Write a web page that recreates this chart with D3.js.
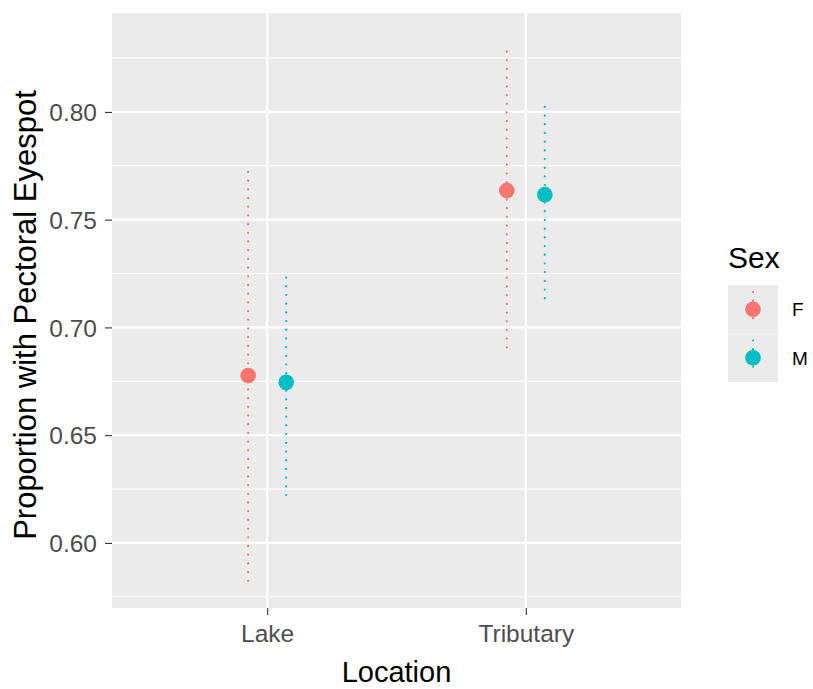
<!DOCTYPE html>
<html>
<head>
<meta charset="utf-8">
<script src="https://cdn.jsdelivr.net/npm/d3@7"></script>
<style>
  body { margin: 0; background: #fff; }
  text { font-family: "Liberation Sans", Arial, sans-serif; }
</style>
</head>
<body>
<div id="chart-area"></div>
<script>
var locations = ["Lake", "Tributary"];
var sexes = ["F", "M"];
var colors = ["#F8766D", "#00BFC4"];

// estimates per location, one array per sex
var estF  = [0.6777, 0.7635];
var lowF  = [0.5824, 0.6907];
var highF = [0.7723, 0.8316];
var estM  = [0.6745, 0.7616];
var lowM  = [0.6222, 0.7135];
var highM = [0.7255, 0.8056];

var yTicks = [0.60, 0.65, 0.70, 0.75, 0.80];
var yMinor = [0.575, 0.625, 0.675, 0.725, 0.775, 0.825];

var data = [];
locations.forEach(function(loc, i) {
    data.push({ loc: loc, sex: "F", est: estF[i], low: lowF[i], high: highF[i] });
    data.push({ loc: loc, sex: "M", est: estM[i], low: lowM[i], high: highM[i] });
});

var margin = { top: 13, left: 112 };
var width  = 569;
var height = 595;

var svg = d3.select("#chart-area")
    .append("svg")
        .attr("width", 813)
        .attr("height", 689);

var g = svg.append("g")
    .attr("transform", "translate(" + margin.left + ", " + margin.top + ")");

// discrete x with ggplot's 0.6 expansion on each side
var x = d3.scaleLinear().domain([0.4, 2.6]).range([0, width]);
var xPos = function(loc) { return x(locations.indexOf(loc) + 1); };
var dodge = 0.0735;

var y = d3.scaleLinear()
    .domain([0.5698, 0.8459])
    .range([height, 0]);

var color = d3.scaleOrdinal().domain(sexes).range(colors);

// panel
g.append("rect")
    .attr("width", width)
    .attr("height", height)
    .attr("fill", "#EBEBEB");

g.selectAll(".minor")
    .data(yMinor)
    .enter().append("line")
        .attr("x1", 0).attr("x2", width)
        .attr("y1", function(d) { return y(d); })
        .attr("y2", function(d) { return y(d); })
        .attr("stroke", "#fff")
        .attr("stroke-width", 1.1);

g.selectAll(".major")
    .data(yTicks)
    .enter().append("line")
        .attr("x1", 0).attr("x2", width)
        .attr("y1", function(d) { return y(d); })
        .attr("y2", function(d) { return y(d); })
        .attr("stroke", "#fff")
        .attr("stroke-width", 2.2);

g.selectAll(".vmajor")
    .data(locations)
    .enter().append("line")
        .attr("x1", function(d) { return xPos(d); })
        .attr("x2", function(d) { return xPos(d); })
        .attr("y1", 0).attr("y2", height)
        .attr("stroke", "#fff")
        .attr("stroke-width", 2.2);

// axes
var yAxisCall = d3.axisLeft(y)
    .tickValues(yTicks)
    .tickSize(7)
    .tickPadding(8)
    .tickFormat(d3.format(".2f"));

var yAxis = g.append("g").call(yAxisCall);
yAxis.select(".domain").remove();
yAxis.selectAll("line").attr("stroke", "#333").attr("stroke-width", 1.1);
yAxis.selectAll("text")
    .attr("fill", "#4D4D4D")
    .attr("font-size", "24.5px")
    .attr("dy", "0.36em");

var xAxisCall = d3.axisBottom(x)
    .tickValues([1, 2])
    .tickSize(7)
    .tickPadding(10)
    .tickFormat(function(d) { return locations[d - 1]; });

var xAxis = g.append("g")
    .attr("transform", "translate(0, " + height + ")")
    .call(xAxisCall);
xAxis.select(".domain").remove();
xAxis.selectAll("line").attr("stroke", "#333").attr("stroke-width", 1.1);
xAxis.selectAll("text").attr("fill", "#4D4D4D").attr("font-size", "24.5px");

svg.append("text")
    .attr("x", margin.left + width / 2)
    .attr("y", 682)
    .attr("text-anchor", "middle")
    .attr("font-size", "29px")
    .attr("fill", "#000")
    .text("Location");

svg.append("text")
    .attr("transform", "translate(36, 315) rotate(-90)")
    .attr("text-anchor", "middle")
    .attr("font-size", "31px")
    .attr("fill", "#000")
    .text("Proportion with Pectoral Eyespot");

// error ranges and points
var cx = function(d) {
    return x(locations.indexOf(d.loc) + 1 + (d.sex === "F" ? -dodge : dodge));
};

g.selectAll(".range")
    .data(data)
    .enter().append("line")
        .attr("x1", cx).attr("x2", cx)
        .attr("y1", function(d) { return y(d.low); })
        .attr("y2", function(d) { return y(d.high); })
        .attr("stroke", function(d) { return color(d.sex); })
        .attr("stroke-width", 2.2)
        .attr("stroke-linecap", "round")
        .attr("stroke-dasharray", "0.1 8.6");

g.selectAll(".pt")
    .data(data)
    .enter().append("circle")
        .attr("cx", cx)
        .attr("cy", function(d) { return y(d.est); })
        .attr("r", 7.8)
        .attr("fill", function(d) { return color(d.sex); });

// legend
var legend = svg.append("g").attr("transform", "translate(728, 0)");

legend.append("text")
    .attr("x", 0)
    .attr("y", 268)
    .attr("font-size", "30px")
    .attr("fill", "#000")
    .text("Sex");

var keys = legend.selectAll(".key")
    .data(sexes)
    .enter().append("g")
        .attr("transform", function(d, i) { return "translate(0, " + (285 + i * 48.5) + ")"; });

keys.append("rect")
    .attr("width", 50)
    .attr("height", 48.5)
    .attr("fill", "#EBEBEB");

keys.append("line")
    .attr("x1", 25).attr("x2", 25)
    .attr("y1", 7).attr("y2", 41.5)
    .attr("stroke", function(d) { return color(d); })
    .attr("stroke-width", 2.2)
    .attr("stroke-linecap", "round")
    .attr("stroke-dasharray", "0.1 8.6");

keys.append("circle")
    .attr("cx", 25)
    .attr("cy", 24.25)
    .attr("r", 7.8)
    .attr("fill", function(d) { return color(d); });

keys.append("text")
    .attr("x", 64)
    .attr("y", 31)
    .attr("font-size", "19px")
    .attr("fill", "#000")
    .text(function(d) { return d; });
</script>
</body>
</html>
